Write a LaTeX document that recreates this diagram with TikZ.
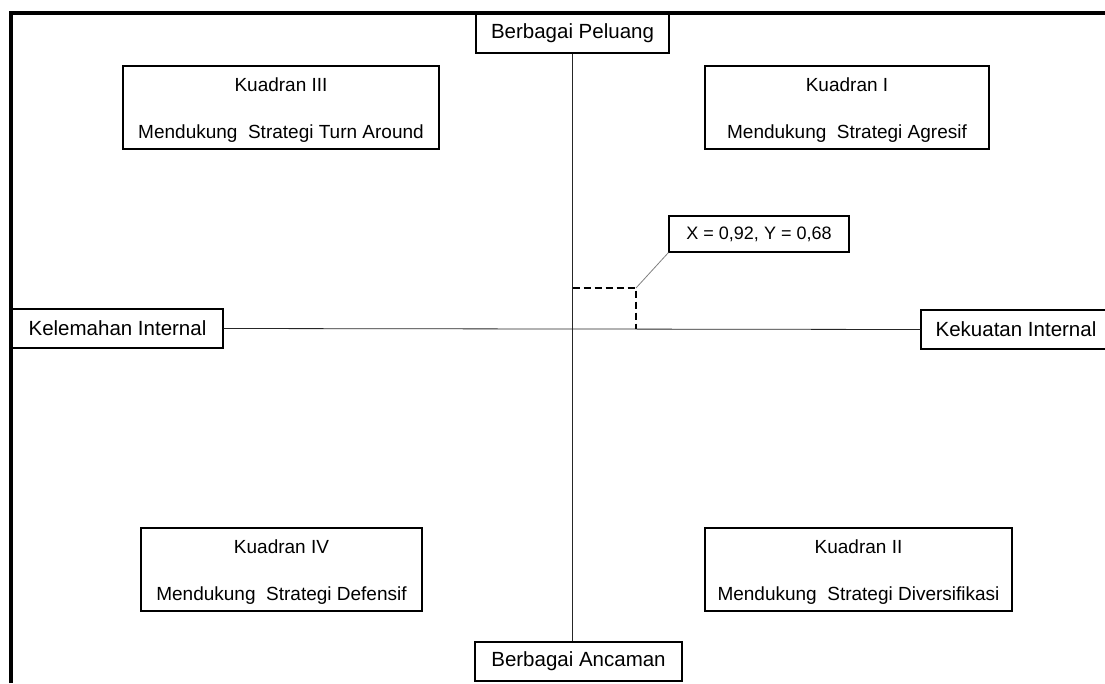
\documentclass[tikz,border=0pt]{standalone}
\usepackage{fontspec}
\setmainfont{Liberation Sans}
\begin{document}
\begin{tikzpicture}[x=1pt,y=-1pt]
	\tikzstyle{kotak}=[draw,line width=1.2pt,inner sep=0pt]
	\tikzstyle{sumbu}=[kotak,minimum height=39,font=\fontsize{20.5}{24}\selectfont]
	\tikzstyle{kuadran}=[kotak,align=center,minimum height=83,text height=66,font=\fontsize{19}{46.6}\selectfont]
	\tikzstyle{garis}=[line width=0.8pt,black!85]
	\tikzstyle{putus}=[line width=1.3pt,dash pattern=on 7pt off 4pt]
	\useasboundingbox (0,0) rectangle (1105,683);
	% label sumbu
	\node[sumbu,minimum width=193,minimum height=40] (peluang) at (572.5,33) {Berbagai Peluang};
	\node[sumbu,minimum width=207] (ancaman) at (578.5,661.5) {Berbagai Ancaman};
	\node[sumbu,minimum width=211] (lemah) at (117.5,328.5) {Kelemahan Internal};
	\node[sumbu,minimum width=190] (kuat) at (1016,329.5) {Kekuatan Internal};
	% kuadran
	\node[kuadran,minimum width=316] (k3) at (281,107.5) {Kuadran III\\Mendukung\ \ Strategi Turn Around};
	\node[kuadran,minimum width=284] (k1) at (847,107.5) {Kuadran I\\Mendukung\ \ Strategi Agresif};
	\node[kuadran,minimum width=281] (k4) at (281.5,569.5) {Kuadran IV\\Mendukung\ \ Strategi Defensif};
	\node[kuadran,minimum width=307] (k2) at (858.5,569.5) {Kuadran II\\Mendukung\ \ Strategi Diversifikasi};
	% titik posisi
	\node[kotak,minimum width=180,minimum height=36,font=\fontsize{18}{22}\selectfont] (nilai) at (759,234) {X = 0,92, Y = 0,68};
	\coordinate (titik) at (636,288);
	\draw[garis] (peluang.south) -- (peluang.south |- ancaman.north);
	\draw[garis] (lemah.east) -- (kuat.west);
	\draw[putus] (peluang.south |- titik) -- (titik) -- (titik |- lemah.east);
	\draw[gray,line width=0.8pt] (titik) -- (nilai.south west);
	% bingkai
	\draw[line width=4pt] (11,683) -- (11,12.5) -- (1105,12.5);
\end{tikzpicture}
\end{document}
